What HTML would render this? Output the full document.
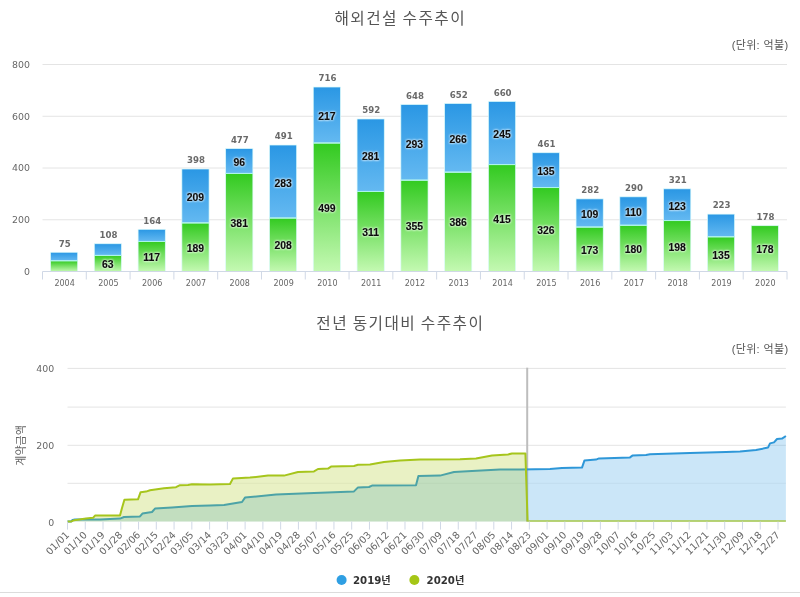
<!DOCTYPE html>
<html lang="ko"><head><meta charset="utf-8"><title>해외건설 수주추이</title>
<style>
html,body{margin:0;padding:0;background:#fff;}
body{width:800px;height:597px;overflow:hidden;position:relative;}
svg{display:block;position:absolute;left:0;top:0;}
.ttl{font-family:"Liberation Sans", "Noto Sans CJK KR", "NanumGothic", sans-serif;font-size:15.7px;fill:#555;letter-spacing:1.45px;word-spacing:-1.2px;}
.unit{font-family:"Liberation Sans", "Noto Sans CJK KR", "NanumGothic", sans-serif;font-size:11px;fill:#555;letter-spacing:.35px;}
.yl{font-family:"DejaVu Sans", "Liberation Sans", sans-serif;font-size:9.4px;fill:#666;}
.xl{font-family:"DejaVu Sans", "Liberation Sans", sans-serif;font-size:8px;fill:#666;}
.tot{font-family:"DejaVu Sans", "Liberation Sans", sans-serif;font-size:8.6px;font-weight:bold;fill:#6a6a6a;}
.in{font-family:"Liberation Sans", "Noto Sans CJK KR", sans-serif;font-size:10.4px;font-weight:bold;fill:#0c0c0c;stroke:#0c0c0c;stroke-width:.15px;filter:drop-shadow(0 0 .8px rgba(255,255,255,.9)) drop-shadow(0 0 1.2px rgba(255,255,255,.6));}
.dl{font-family:"DejaVu Sans", "Liberation Sans", sans-serif;font-size:9.8px;fill:#686868;}
.yt{font-family:"Liberation Sans", "Noto Sans CJK KR", "NanumGothic", sans-serif;font-size:11px;fill:#666;letter-spacing:0px;}
.lg{font-family:"DejaVu Sans", "Noto Sans CJK KR", sans-serif;font-size:10.2px;font-weight:bold;fill:#333;}
</style></head><body>
<svg width="800" height="597" viewBox="0 0 800 597">
<defs>
<linearGradient id="gb" x1="0" y1="0" x2="0" y2="1"><stop offset="0" stop-color="#2a97e4"/><stop offset="1" stop-color="#64b9f1"/></linearGradient>
<linearGradient id="gg" x1="0" y1="0" x2="0" y2="1"><stop offset="0" stop-color="#32ca20"/><stop offset="1" stop-color="#c4f9b2"/></linearGradient>
</defs>
<rect x="0" y="0" width="800" height="597" fill="#fff"/>
<text class="ttl" x="400.3" y="23.6" text-anchor="middle">해외건설 수주추이</text>
<text class="unit" x="788.4" y="49.2" text-anchor="end">(단위: 억불)</text>
<line x1="42.5" y1="219.75" x2="787.0" y2="219.75" stroke="#e4e4e4" stroke-width="1"/>
<line x1="42.5" y1="168.00" x2="787.0" y2="168.00" stroke="#e4e4e4" stroke-width="1"/>
<line x1="42.5" y1="116.25" x2="787.0" y2="116.25" stroke="#e4e4e4" stroke-width="1"/>
<line x1="42.5" y1="64.50" x2="787.0" y2="64.50" stroke="#e4e4e4" stroke-width="1"/>
<text class="yl" x="30" y="274.9" text-anchor="end">0</text>
<text class="yl" x="30" y="223.2" text-anchor="end">200</text>
<text class="yl" x="30" y="171.4" text-anchor="end">400</text>
<text class="yl" x="30" y="119.7" text-anchor="end">600</text>
<text class="yl" x="30" y="67.9" text-anchor="end">800</text>
<rect x="50.50" y="260.77" width="27.2" height="10.83" fill="url(#gg)" stroke="#dcfbfb" stroke-width=".7"/>
<rect x="50.50" y="252.27" width="27.2" height="8.51" fill="url(#gb)" stroke="#dcfbfb" stroke-width=".7"/>
<line x1="50.50" y1="260.77" x2="77.70" y2="260.77" stroke="#a8f4ea" stroke-width="1"/>
<text class="tot" x="64.70" y="246.57" text-anchor="middle">75</text>
<text class="xl" x="64.60" y="286.30" text-anchor="middle">2004</text>
<rect x="94.29" y="255.36" width="27.2" height="16.24" fill="url(#gg)" stroke="#dcfbfb" stroke-width=".7"/>
<rect x="94.29" y="243.76" width="27.2" height="11.60" fill="url(#gb)" stroke="#dcfbfb" stroke-width=".7"/>
<line x1="94.29" y1="255.36" x2="121.49" y2="255.36" stroke="#a8f4ea" stroke-width="1"/>
<text class="in" x="107.89" y="267.98" text-anchor="middle">63</text>
<text class="tot" x="108.49" y="238.06" text-anchor="middle">108</text>
<text class="xl" x="108.39" y="286.30" text-anchor="middle">2005</text>
<rect x="138.09" y="241.44" width="27.2" height="30.16" fill="url(#gg)" stroke="#dcfbfb" stroke-width=".7"/>
<rect x="138.09" y="229.32" width="27.2" height="12.12" fill="url(#gb)" stroke="#dcfbfb" stroke-width=".7"/>
<line x1="138.09" y1="241.44" x2="165.29" y2="241.44" stroke="#a8f4ea" stroke-width="1"/>
<text class="in" x="151.69" y="261.02" text-anchor="middle">117</text>
<text class="tot" x="152.29" y="223.62" text-anchor="middle">164</text>
<text class="xl" x="152.19" y="286.30" text-anchor="middle">2006</text>
<rect x="181.88" y="222.88" width="27.2" height="48.72" fill="url(#gg)" stroke="#dcfbfb" stroke-width=".7"/>
<rect x="181.88" y="169.00" width="27.2" height="53.88" fill="url(#gb)" stroke="#dcfbfb" stroke-width=".7"/>
<line x1="181.88" y1="222.88" x2="209.08" y2="222.88" stroke="#a8f4ea" stroke-width="1"/>
<text class="in" x="195.48" y="251.74" text-anchor="middle">189</text>
<text class="in" x="195.48" y="201.14" text-anchor="middle">209</text>
<text class="tot" x="196.08" y="163.30" text-anchor="middle">398</text>
<text class="xl" x="195.98" y="286.30" text-anchor="middle">2007</text>
<rect x="225.67" y="173.38" width="27.2" height="98.22" fill="url(#gg)" stroke="#dcfbfb" stroke-width=".7"/>
<rect x="225.67" y="148.63" width="27.2" height="24.75" fill="url(#gb)" stroke="#dcfbfb" stroke-width=".7"/>
<line x1="225.67" y1="173.38" x2="252.87" y2="173.38" stroke="#a8f4ea" stroke-width="1"/>
<text class="in" x="239.27" y="226.99" text-anchor="middle">381</text>
<text class="in" x="239.27" y="166.20" text-anchor="middle">96</text>
<text class="tot" x="239.87" y="142.93" text-anchor="middle">477</text>
<text class="xl" x="239.77" y="286.30" text-anchor="middle">2008</text>
<rect x="269.47" y="217.98" width="27.2" height="53.62" fill="url(#gg)" stroke="#dcfbfb" stroke-width=".7"/>
<rect x="269.47" y="145.02" width="27.2" height="72.96" fill="url(#gb)" stroke="#dcfbfb" stroke-width=".7"/>
<line x1="269.47" y1="217.98" x2="296.67" y2="217.98" stroke="#a8f4ea" stroke-width="1"/>
<text class="in" x="283.07" y="249.29" text-anchor="middle">208</text>
<text class="in" x="283.07" y="186.70" text-anchor="middle">283</text>
<text class="tot" x="283.67" y="139.32" text-anchor="middle">491</text>
<text class="xl" x="283.57" y="286.30" text-anchor="middle">2009</text>
<rect x="313.26" y="142.96" width="27.2" height="128.64" fill="url(#gg)" stroke="#dcfbfb" stroke-width=".7"/>
<rect x="313.26" y="87.02" width="27.2" height="55.94" fill="url(#gb)" stroke="#dcfbfb" stroke-width=".7"/>
<line x1="313.26" y1="142.96" x2="340.46" y2="142.96" stroke="#a8f4ea" stroke-width="1"/>
<text class="in" x="326.86" y="211.78" text-anchor="middle">499</text>
<text class="in" x="326.86" y="120.19" text-anchor="middle">217</text>
<text class="tot" x="327.46" y="81.32" text-anchor="middle">716</text>
<text class="xl" x="327.36" y="286.30" text-anchor="middle">2010</text>
<rect x="357.06" y="191.42" width="27.2" height="80.18" fill="url(#gg)" stroke="#dcfbfb" stroke-width=".7"/>
<rect x="357.06" y="118.98" width="27.2" height="72.44" fill="url(#gb)" stroke="#dcfbfb" stroke-width=".7"/>
<line x1="357.06" y1="191.42" x2="384.26" y2="191.42" stroke="#a8f4ea" stroke-width="1"/>
<text class="in" x="370.66" y="236.01" text-anchor="middle">311</text>
<text class="in" x="370.66" y="160.40" text-anchor="middle">281</text>
<text class="tot" x="371.26" y="113.28" text-anchor="middle">592</text>
<text class="xl" x="371.16" y="286.30" text-anchor="middle">2011</text>
<rect x="400.85" y="180.08" width="27.2" height="91.52" fill="url(#gg)" stroke="#dcfbfb" stroke-width=".7"/>
<rect x="400.85" y="104.55" width="27.2" height="75.54" fill="url(#gb)" stroke="#dcfbfb" stroke-width=".7"/>
<line x1="400.85" y1="180.08" x2="428.05" y2="180.08" stroke="#a8f4ea" stroke-width="1"/>
<text class="in" x="414.45" y="230.34" text-anchor="middle">355</text>
<text class="in" x="414.45" y="147.51" text-anchor="middle">293</text>
<text class="tot" x="415.05" y="98.85" text-anchor="middle">648</text>
<text class="xl" x="414.95" y="286.30" text-anchor="middle">2012</text>
<rect x="444.64" y="172.09" width="27.2" height="99.51" fill="url(#gg)" stroke="#dcfbfb" stroke-width=".7"/>
<rect x="444.64" y="103.51" width="27.2" height="68.57" fill="url(#gb)" stroke="#dcfbfb" stroke-width=".7"/>
<line x1="444.64" y1="172.09" x2="471.84" y2="172.09" stroke="#a8f4ea" stroke-width="1"/>
<text class="in" x="458.24" y="226.34" text-anchor="middle">386</text>
<text class="in" x="458.24" y="143.00" text-anchor="middle">266</text>
<text class="tot" x="458.84" y="97.81" text-anchor="middle">652</text>
<text class="xl" x="458.74" y="286.30" text-anchor="middle">2013</text>
<rect x="488.44" y="164.61" width="27.2" height="106.99" fill="url(#gg)" stroke="#dcfbfb" stroke-width=".7"/>
<rect x="488.44" y="101.45" width="27.2" height="63.16" fill="url(#gb)" stroke="#dcfbfb" stroke-width=".7"/>
<line x1="488.44" y1="164.61" x2="515.64" y2="164.61" stroke="#a8f4ea" stroke-width="1"/>
<text class="in" x="502.04" y="222.61" text-anchor="middle">415</text>
<text class="in" x="502.04" y="138.23" text-anchor="middle">245</text>
<text class="tot" x="502.64" y="95.75" text-anchor="middle">660</text>
<text class="xl" x="502.54" y="286.30" text-anchor="middle">2014</text>
<rect x="532.23" y="187.56" width="27.2" height="84.04" fill="url(#gg)" stroke="#dcfbfb" stroke-width=".7"/>
<rect x="532.23" y="152.75" width="27.2" height="34.80" fill="url(#gb)" stroke="#dcfbfb" stroke-width=".7"/>
<line x1="532.23" y1="187.56" x2="559.43" y2="187.56" stroke="#a8f4ea" stroke-width="1"/>
<text class="in" x="545.83" y="234.08" text-anchor="middle">326</text>
<text class="in" x="545.83" y="175.36" text-anchor="middle">135</text>
<text class="tot" x="546.43" y="147.05" text-anchor="middle">461</text>
<text class="xl" x="546.33" y="286.30" text-anchor="middle">2015</text>
<rect x="576.03" y="227.00" width="27.2" height="44.60" fill="url(#gg)" stroke="#dcfbfb" stroke-width=".7"/>
<rect x="576.03" y="198.90" width="27.2" height="28.10" fill="url(#gb)" stroke="#dcfbfb" stroke-width=".7"/>
<line x1="576.03" y1="227.00" x2="603.23" y2="227.00" stroke="#a8f4ea" stroke-width="1"/>
<text class="in" x="589.63" y="253.80" text-anchor="middle">173</text>
<text class="in" x="589.63" y="218.15" text-anchor="middle">109</text>
<text class="tot" x="590.23" y="193.20" text-anchor="middle">282</text>
<text class="xl" x="590.13" y="286.30" text-anchor="middle">2016</text>
<rect x="619.82" y="225.20" width="27.2" height="46.40" fill="url(#gg)" stroke="#dcfbfb" stroke-width=".7"/>
<rect x="619.82" y="196.84" width="27.2" height="28.36" fill="url(#gb)" stroke="#dcfbfb" stroke-width=".7"/>
<line x1="619.82" y1="225.20" x2="647.02" y2="225.20" stroke="#a8f4ea" stroke-width="1"/>
<text class="in" x="633.42" y="252.90" text-anchor="middle">180</text>
<text class="in" x="633.42" y="216.22" text-anchor="middle">110</text>
<text class="tot" x="634.02" y="191.14" text-anchor="middle">290</text>
<text class="xl" x="633.92" y="286.30" text-anchor="middle">2017</text>
<rect x="663.61" y="220.56" width="27.2" height="51.04" fill="url(#gg)" stroke="#dcfbfb" stroke-width=".7"/>
<rect x="663.61" y="188.85" width="27.2" height="31.71" fill="url(#gb)" stroke="#dcfbfb" stroke-width=".7"/>
<line x1="663.61" y1="220.56" x2="690.81" y2="220.56" stroke="#a8f4ea" stroke-width="1"/>
<text class="in" x="677.21" y="250.58" text-anchor="middle">198</text>
<text class="in" x="677.21" y="209.90" text-anchor="middle">123</text>
<text class="tot" x="677.81" y="183.15" text-anchor="middle">321</text>
<text class="xl" x="677.71" y="286.30" text-anchor="middle">2018</text>
<rect x="707.41" y="236.80" width="27.2" height="34.80" fill="url(#gg)" stroke="#dcfbfb" stroke-width=".7"/>
<rect x="707.41" y="214.11" width="27.2" height="22.69" fill="url(#gb)" stroke="#dcfbfb" stroke-width=".7"/>
<line x1="707.41" y1="236.80" x2="734.61" y2="236.80" stroke="#a8f4ea" stroke-width="1"/>
<text class="in" x="721.01" y="258.70" text-anchor="middle">135</text>
<text class="tot" x="721.61" y="208.41" text-anchor="middle">223</text>
<text class="xl" x="721.51" y="286.30" text-anchor="middle">2019</text>
<rect x="751.20" y="225.71" width="27.2" height="45.89" fill="url(#gg)" stroke="#dcfbfb" stroke-width=".7"/>
<text class="in" x="764.80" y="253.16" text-anchor="middle">178</text>
<text class="tot" x="765.40" y="220.01" text-anchor="middle">178</text>
<text class="xl" x="765.30" y="286.30" text-anchor="middle">2020</text>
<line x1="42.5" y1="271.50" x2="787.0" y2="271.50" stroke="#d0d8e6" stroke-width="1"/>
<line x1="42.50" y1="271.50" x2="42.50" y2="279.50" stroke="#d0d8e6" stroke-width="1"/>
<line x1="86.29" y1="271.50" x2="86.29" y2="279.50" stroke="#d0d8e6" stroke-width="1"/>
<line x1="130.09" y1="271.50" x2="130.09" y2="279.50" stroke="#d0d8e6" stroke-width="1"/>
<line x1="173.88" y1="271.50" x2="173.88" y2="279.50" stroke="#d0d8e6" stroke-width="1"/>
<line x1="217.68" y1="271.50" x2="217.68" y2="279.50" stroke="#d0d8e6" stroke-width="1"/>
<line x1="261.47" y1="271.50" x2="261.47" y2="279.50" stroke="#d0d8e6" stroke-width="1"/>
<line x1="305.26" y1="271.50" x2="305.26" y2="279.50" stroke="#d0d8e6" stroke-width="1"/>
<line x1="349.06" y1="271.50" x2="349.06" y2="279.50" stroke="#d0d8e6" stroke-width="1"/>
<line x1="392.85" y1="271.50" x2="392.85" y2="279.50" stroke="#d0d8e6" stroke-width="1"/>
<line x1="436.65" y1="271.50" x2="436.65" y2="279.50" stroke="#d0d8e6" stroke-width="1"/>
<line x1="480.44" y1="271.50" x2="480.44" y2="279.50" stroke="#d0d8e6" stroke-width="1"/>
<line x1="524.24" y1="271.50" x2="524.24" y2="279.50" stroke="#d0d8e6" stroke-width="1"/>
<line x1="568.03" y1="271.50" x2="568.03" y2="279.50" stroke="#d0d8e6" stroke-width="1"/>
<line x1="611.82" y1="271.50" x2="611.82" y2="279.50" stroke="#d0d8e6" stroke-width="1"/>
<line x1="655.62" y1="271.50" x2="655.62" y2="279.50" stroke="#d0d8e6" stroke-width="1"/>
<line x1="699.41" y1="271.50" x2="699.41" y2="279.50" stroke="#d0d8e6" stroke-width="1"/>
<line x1="743.21" y1="271.50" x2="743.21" y2="279.50" stroke="#d0d8e6" stroke-width="1"/>
<line x1="787.00" y1="271.50" x2="787.00" y2="279.50" stroke="#d0d8e6" stroke-width="1"/>
<text class="ttl" x="400.3" y="328.6" text-anchor="middle">전년 동기대비 수주추이</text>
<text class="unit" x="788.4" y="353.2" text-anchor="end">(단위: 억불)</text>
<line x1="67.5" y1="445.30" x2="785.9" y2="445.30" stroke="#e4e4e4" stroke-width="1"/>
<line x1="67.5" y1="407.10" x2="785.9" y2="407.10" stroke="#e4e4e4" stroke-width="1"/>
<line x1="67.5" y1="368.40" x2="785.9" y2="368.40" stroke="#e4e4e4" stroke-width="1"/>
<line x1="67.5" y1="483.3" x2="199" y2="483.3" stroke="#e4e4e4" stroke-width="1"/>
<line x1="199" y1="483.3" x2="785.9" y2="483.3" stroke="#e4e4e4" stroke-opacity=".5" stroke-width="1"/>
<text class="yl" x="54.2" y="525.5" text-anchor="end">0</text>
<text class="yl" x="54.2" y="448.8" text-anchor="end">200</text>
<text class="yl" x="54.2" y="372.1" text-anchor="end">400</text>
<text class="yt" transform="translate(25.4,445.4) rotate(-90)" text-anchor="middle">계약금액</text>
<line x1="527.2" y1="367.7" x2="527.2" y2="521.6" stroke="#bdbdbd" stroke-width="2"/>
<polygon points="67.5,521.4 71.0,521.4 72.5,520.0 75.0,519.5 100.0,519.4 120.0,518.6 124.0,517.0 140.0,516.4 142.4,513.6 152.0,512.0 155.0,508.6 172.0,507.6 192.0,506.0 210.0,505.6 224.0,505.0 242.0,502.0 245.0,497.6 276.0,494.6 314.0,493.0 354.0,491.4 358.0,487.4 369.0,487.0 372.0,485.6 416.0,485.2 418.4,476.0 440.0,475.6 454.0,472.0 472.0,471.0 500.0,469.6 520.0,469.4 550.0,469.0 562.0,468.0 582.0,467.6 584.4,460.6 596.0,459.6 599.0,458.4 630.0,457.4 632.4,455.6 646.0,455.0 650.0,454.2 690.0,453.0 726.0,452.0 740.0,451.4 756.0,450.0 768.0,447.6 770.0,443.4 774.0,442.4 777.0,439.0 782.0,438.6 785.9,436.0 785.9,521.6 67.5,521.6" fill="#2f9de4" fill-opacity=".25"/>
<polyline points="67.5,521.4 71.0,521.4 72.5,520.0 75.0,519.5 100.0,519.4 120.0,518.6 124.0,517.0 140.0,516.4 142.4,513.6 152.0,512.0 155.0,508.6 172.0,507.6 192.0,506.0 210.0,505.6 224.0,505.0 242.0,502.0 245.0,497.6 276.0,494.6 314.0,493.0 354.0,491.4 358.0,487.4 369.0,487.0 372.0,485.6 416.0,485.2 418.4,476.0 440.0,475.6 454.0,472.0 472.0,471.0 500.0,469.6 520.0,469.4 550.0,469.0 562.0,468.0 582.0,467.6 584.4,460.6 596.0,459.6 599.0,458.4 630.0,457.4 632.4,455.6 646.0,455.0 650.0,454.2 690.0,453.0 726.0,452.0 740.0,451.4 756.0,450.0 768.0,447.6 770.0,443.4 774.0,442.4 777.0,439.0 782.0,438.6 785.9,436.0" fill="none" stroke="#2e97d8" stroke-width="2" stroke-linejoin="round"/>
<polygon points="67.5,521.4 71.5,521.4 74.0,520.2 86.0,518.6 93.0,517.8 95.0,515.6 120.0,515.4 122.0,508.0 124.4,499.8 138.0,499.3 140.6,492.2 146.0,491.6 150.0,490.2 164.0,488.2 176.0,487.2 180.0,485.2 188.0,484.9 192.0,484.2 210.0,484.6 230.0,484.0 233.0,478.4 250.0,477.6 268.0,475.6 284.0,475.6 298.0,472.0 314.0,471.4 318.0,469.0 328.0,468.6 331.0,466.6 354.0,466.0 358.0,464.8 370.0,464.4 384.0,462.0 400.0,460.6 420.0,459.6 460.0,459.2 476.0,458.6 492.0,455.6 508.0,454.4 512.0,453.5 525.4,453.4 527.6,521.4 527.6,521.6 67.5,521.6" fill="#a9c814" fill-opacity=".25"/>
<polyline points="67.5,521.4 71.5,521.4 74.0,520.2 86.0,518.6 93.0,517.8 95.0,515.6 120.0,515.4 122.0,508.0 124.4,499.8 138.0,499.3 140.6,492.2 146.0,491.6 150.0,490.2 164.0,488.2 176.0,487.2 180.0,485.2 188.0,484.9 192.0,484.2 210.0,484.6 230.0,484.0 233.0,478.4 250.0,477.6 268.0,475.6 284.0,475.6 298.0,472.0 314.0,471.4 318.0,469.0 328.0,468.6 331.0,466.6 354.0,466.0 358.0,464.8 370.0,464.4 384.0,462.0 400.0,460.6 420.0,459.6 460.0,459.2 476.0,458.6 492.0,455.6 508.0,454.4 512.0,453.5 525.4,453.4 527.6,521.4" fill="none" stroke="#a6c51c" stroke-width="2" stroke-linejoin="round"/>
<line x1="527.6" y1="521.1" x2="785.9" y2="521.1" stroke="#a9c84a" stroke-width="1.5"/>
<line x1="67.50" y1="521.60" x2="67.50" y2="529.60" stroke="#d0d8e6" stroke-width="1"/>
<text class="dl" transform="translate(69.90,535.50) rotate(-45)" text-anchor="end">01/01</text>
<line x1="85.26" y1="521.60" x2="85.26" y2="529.60" stroke="#d0d8e6" stroke-width="1"/>
<text class="dl" transform="translate(87.66,535.50) rotate(-45)" text-anchor="end">01/10</text>
<line x1="103.03" y1="521.60" x2="103.03" y2="529.60" stroke="#d0d8e6" stroke-width="1"/>
<text class="dl" transform="translate(105.43,535.50) rotate(-45)" text-anchor="end">01/19</text>
<line x1="120.79" y1="521.60" x2="120.79" y2="529.60" stroke="#d0d8e6" stroke-width="1"/>
<text class="dl" transform="translate(123.19,535.50) rotate(-45)" text-anchor="end">01/28</text>
<line x1="138.55" y1="521.60" x2="138.55" y2="529.60" stroke="#d0d8e6" stroke-width="1"/>
<text class="dl" transform="translate(140.95,535.50) rotate(-45)" text-anchor="end">02/06</text>
<line x1="156.31" y1="521.60" x2="156.31" y2="529.60" stroke="#d0d8e6" stroke-width="1"/>
<text class="dl" transform="translate(158.71,535.50) rotate(-45)" text-anchor="end">02/15</text>
<line x1="174.07" y1="521.60" x2="174.07" y2="529.60" stroke="#d0d8e6" stroke-width="1"/>
<text class="dl" transform="translate(176.47,535.50) rotate(-45)" text-anchor="end">02/24</text>
<line x1="191.84" y1="521.60" x2="191.84" y2="529.60" stroke="#d0d8e6" stroke-width="1"/>
<text class="dl" transform="translate(194.24,535.50) rotate(-45)" text-anchor="end">03/05</text>
<line x1="209.60" y1="521.60" x2="209.60" y2="529.60" stroke="#d0d8e6" stroke-width="1"/>
<text class="dl" transform="translate(212.00,535.50) rotate(-45)" text-anchor="end">03/14</text>
<line x1="227.36" y1="521.60" x2="227.36" y2="529.60" stroke="#d0d8e6" stroke-width="1"/>
<text class="dl" transform="translate(229.76,535.50) rotate(-45)" text-anchor="end">03/23</text>
<line x1="245.12" y1="521.60" x2="245.12" y2="529.60" stroke="#d0d8e6" stroke-width="1"/>
<text class="dl" transform="translate(247.53,535.50) rotate(-45)" text-anchor="end">04/01</text>
<line x1="262.89" y1="521.60" x2="262.89" y2="529.60" stroke="#d0d8e6" stroke-width="1"/>
<text class="dl" transform="translate(265.29,535.50) rotate(-45)" text-anchor="end">04/10</text>
<line x1="280.65" y1="521.60" x2="280.65" y2="529.60" stroke="#d0d8e6" stroke-width="1"/>
<text class="dl" transform="translate(283.05,535.50) rotate(-45)" text-anchor="end">04/19</text>
<line x1="298.41" y1="521.60" x2="298.41" y2="529.60" stroke="#d0d8e6" stroke-width="1"/>
<text class="dl" transform="translate(300.81,535.50) rotate(-45)" text-anchor="end">04/28</text>
<line x1="316.18" y1="521.60" x2="316.18" y2="529.60" stroke="#d0d8e6" stroke-width="1"/>
<text class="dl" transform="translate(318.57,535.50) rotate(-45)" text-anchor="end">05/07</text>
<line x1="333.94" y1="521.60" x2="333.94" y2="529.60" stroke="#d0d8e6" stroke-width="1"/>
<text class="dl" transform="translate(336.34,535.50) rotate(-45)" text-anchor="end">05/16</text>
<line x1="351.70" y1="521.60" x2="351.70" y2="529.60" stroke="#d0d8e6" stroke-width="1"/>
<text class="dl" transform="translate(354.10,535.50) rotate(-45)" text-anchor="end">05/25</text>
<line x1="369.46" y1="521.60" x2="369.46" y2="529.60" stroke="#d0d8e6" stroke-width="1"/>
<text class="dl" transform="translate(371.86,535.50) rotate(-45)" text-anchor="end">06/03</text>
<line x1="387.23" y1="521.60" x2="387.23" y2="529.60" stroke="#d0d8e6" stroke-width="1"/>
<text class="dl" transform="translate(389.62,535.50) rotate(-45)" text-anchor="end">06/12</text>
<line x1="404.99" y1="521.60" x2="404.99" y2="529.60" stroke="#d0d8e6" stroke-width="1"/>
<text class="dl" transform="translate(407.39,535.50) rotate(-45)" text-anchor="end">06/21</text>
<line x1="422.75" y1="521.60" x2="422.75" y2="529.60" stroke="#d0d8e6" stroke-width="1"/>
<text class="dl" transform="translate(425.15,535.50) rotate(-45)" text-anchor="end">06/30</text>
<line x1="440.51" y1="521.60" x2="440.51" y2="529.60" stroke="#d0d8e6" stroke-width="1"/>
<text class="dl" transform="translate(442.91,535.50) rotate(-45)" text-anchor="end">07/09</text>
<line x1="458.28" y1="521.60" x2="458.28" y2="529.60" stroke="#d0d8e6" stroke-width="1"/>
<text class="dl" transform="translate(460.68,535.50) rotate(-45)" text-anchor="end">07/18</text>
<line x1="476.04" y1="521.60" x2="476.04" y2="529.60" stroke="#d0d8e6" stroke-width="1"/>
<text class="dl" transform="translate(478.44,535.50) rotate(-45)" text-anchor="end">07/27</text>
<line x1="493.80" y1="521.60" x2="493.80" y2="529.60" stroke="#d0d8e6" stroke-width="1"/>
<text class="dl" transform="translate(496.20,535.50) rotate(-45)" text-anchor="end">08/05</text>
<line x1="511.56" y1="521.60" x2="511.56" y2="529.60" stroke="#d0d8e6" stroke-width="1"/>
<text class="dl" transform="translate(513.96,535.50) rotate(-45)" text-anchor="end">08/14</text>
<line x1="529.33" y1="521.60" x2="529.33" y2="529.60" stroke="#d0d8e6" stroke-width="1"/>
<text class="dl" transform="translate(531.73,535.50) rotate(-45)" text-anchor="end">08/23</text>
<line x1="547.09" y1="521.60" x2="547.09" y2="529.60" stroke="#d0d8e6" stroke-width="1"/>
<text class="dl" transform="translate(549.49,535.50) rotate(-45)" text-anchor="end">09/01</text>
<line x1="564.85" y1="521.60" x2="564.85" y2="529.60" stroke="#d0d8e6" stroke-width="1"/>
<text class="dl" transform="translate(567.25,535.50) rotate(-45)" text-anchor="end">09/10</text>
<line x1="582.61" y1="521.60" x2="582.61" y2="529.60" stroke="#d0d8e6" stroke-width="1"/>
<text class="dl" transform="translate(585.01,535.50) rotate(-45)" text-anchor="end">09/19</text>
<line x1="600.38" y1="521.60" x2="600.38" y2="529.60" stroke="#d0d8e6" stroke-width="1"/>
<text class="dl" transform="translate(602.77,535.50) rotate(-45)" text-anchor="end">09/28</text>
<line x1="618.14" y1="521.60" x2="618.14" y2="529.60" stroke="#d0d8e6" stroke-width="1"/>
<text class="dl" transform="translate(620.54,535.50) rotate(-45)" text-anchor="end">10/07</text>
<line x1="635.90" y1="521.60" x2="635.90" y2="529.60" stroke="#d0d8e6" stroke-width="1"/>
<text class="dl" transform="translate(638.30,535.50) rotate(-45)" text-anchor="end">10/16</text>
<line x1="653.66" y1="521.60" x2="653.66" y2="529.60" stroke="#d0d8e6" stroke-width="1"/>
<text class="dl" transform="translate(656.06,535.50) rotate(-45)" text-anchor="end">10/25</text>
<line x1="671.43" y1="521.60" x2="671.43" y2="529.60" stroke="#d0d8e6" stroke-width="1"/>
<text class="dl" transform="translate(673.83,535.50) rotate(-45)" text-anchor="end">11/03</text>
<line x1="689.19" y1="521.60" x2="689.19" y2="529.60" stroke="#d0d8e6" stroke-width="1"/>
<text class="dl" transform="translate(691.59,535.50) rotate(-45)" text-anchor="end">11/12</text>
<line x1="706.95" y1="521.60" x2="706.95" y2="529.60" stroke="#d0d8e6" stroke-width="1"/>
<text class="dl" transform="translate(709.35,535.50) rotate(-45)" text-anchor="end">11/21</text>
<line x1="724.71" y1="521.60" x2="724.71" y2="529.60" stroke="#d0d8e6" stroke-width="1"/>
<text class="dl" transform="translate(727.11,535.50) rotate(-45)" text-anchor="end">11/30</text>
<line x1="742.48" y1="521.60" x2="742.48" y2="529.60" stroke="#d0d8e6" stroke-width="1"/>
<text class="dl" transform="translate(744.88,535.50) rotate(-45)" text-anchor="end">12/09</text>
<line x1="760.24" y1="521.60" x2="760.24" y2="529.60" stroke="#d0d8e6" stroke-width="1"/>
<text class="dl" transform="translate(762.64,535.50) rotate(-45)" text-anchor="end">12/18</text>
<line x1="778.00" y1="521.60" x2="778.00" y2="529.60" stroke="#d0d8e6" stroke-width="1"/>
<text class="dl" transform="translate(780.40,535.50) rotate(-45)" text-anchor="end">12/27</text>
<circle cx="341.6" cy="580" r="5" fill="#2f9fe3"/>
<text class="lg" x="353" y="584">2019년</text>
<circle cx="414.4" cy="580" r="5" fill="#a5c616"/>
<text class="lg" x="426.6" y="584">2020년</text>
<line x1="0" y1="592.5" x2="800" y2="592.5" stroke="#dcdcdc" stroke-width="1"/>
</svg>
</body></html>
